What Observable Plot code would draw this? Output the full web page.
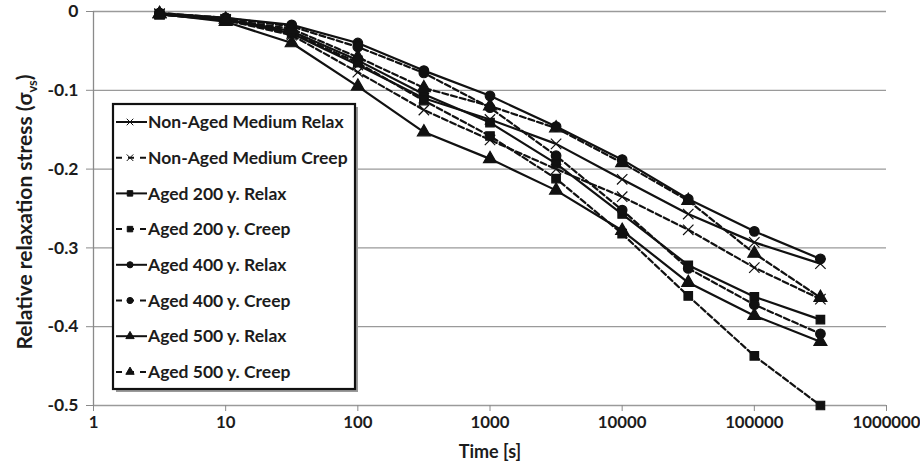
<!DOCTYPE html>
<html><head><meta charset="utf-8">
<script src="https://cdn.jsdelivr.net/npm/d3@7"></script>
<script src="https://cdn.jsdelivr.net/npm/@observablehq/plot@0.6"></script>
<style>
body{margin:0;background:#fff;}
#chart{position:relative;width:920px;height:466px;}
</style></head><body><div id="chart"></div>
<script>
const times = [3.16, 10, 31.6, 100, 316, 1000, 3162, 10000, 31623, 100000, 316228];
const seriesNames = ["Non-Aged Medium Relax","Non-Aged Medium Creep","Aged 200 y. Relax","Aged 200 y. Creep","Aged 400 y. Relax","Aged 400 y. Creep","Aged 500 y. Relax","Aged 500 y. Creep"];
const seriesSymbols = ["times","times","square","square","circle","circle","triangle","triangle"];
const seriesDashed = [false,true,false,true,false,true,false,true];
const nonAgedRelax = [-0.003,-0.010,-0.028,-0.068,-0.110,-0.137,-0.168,-0.213,-0.257,-0.293,-0.320];
const nonAgedCreep = [-0.003,-0.011,-0.030,-0.077,-0.125,-0.163,-0.200,-0.235,-0.277,-0.325,-0.365];
const aged200Relax = [-0.004,-0.010,-0.025,-0.062,-0.105,-0.141,-0.193,-0.257,-0.322,-0.362,-0.391];
const aged200Creep = [-0.004,-0.011,-0.027,-0.065,-0.113,-0.158,-0.212,-0.282,-0.361,-0.437,-0.500];
const aged400Relax = [-0.002,-0.008,-0.017,-0.040,-0.075,-0.107,-0.146,-0.188,-0.238,-0.279,-0.314];
const aged400Creep = [-0.002,-0.008,-0.019,-0.045,-0.078,-0.122,-0.183,-0.252,-0.326,-0.372,-0.409];
const aged500Relax = [-0.003,-0.013,-0.040,-0.095,-0.153,-0.187,-0.227,-0.278,-0.344,-0.386,-0.419];
const aged500Creep = [-0.003,-0.010,-0.022,-0.058,-0.097,-0.120,-0.148,-0.192,-0.240,-0.307,-0.363];
const seriesValues = [nonAgedRelax,nonAgedCreep,aged200Relax,aged200Creep,aged400Relax,aged400Creep,aged500Relax,aged500Creep];
const yTicks = [0,-0.1,-0.2,-0.3,-0.4,-0.5];
const xTicks = [1,10,100,1000,10000,100000,1000000];
const xTitle = "Time [s]";
const yTitle = "Relative relaxation stress (σ";
const yTitleSub = "vs";

const rows = seriesNames.flatMap((s,i)=>times.map((t,j)=>({series:s,time:t,value:seriesValues[i][j],dashed:seriesDashed[i]})));

const font = "Lato, 'Open Sans', sans-serif";
const ink = "#1c1c1c";
const chart = Plot.plot({
  width:920, height:466,
  marginLeft:93, marginRight:34, marginTop:11, marginBottom:61,
  style:{fontFamily:font, fontWeight:"bold", fontSize:"17px", color:ink, background:"#fff", overflow:"visible"},
  x:{type:"log", domain:[1,1e6]},
  y:{domain:[-0.5,0]},
  symbol:{domain:seriesNames, range:seriesSymbols},
  marks:[
    Plot.gridY(yTicks,{stroke:"#9a9a9a", strokeOpacity:1, strokeWidth:1.3}),
    Plot.ruleX([1],{stroke:"#8a8a8a", strokeWidth:1.3}),
    Plot.axisY(yTicks,{tickSize:7, tickPadding:8, stroke:"#8a8a8a", fill:ink, label:null, fontSize:17.5, tickFormat:d=>d===0?"0":String(d)}),
    Plot.axisX(xTicks,{tickSize:6, tickPadding:5, stroke:"#8a8a8a", fill:ink, label:null, fontSize:16.8, tickFormat:d=>String(d)}),
    Plot.line(rows.filter(d=>!d.dashed),{x:"time", y:"value", z:"series", stroke:"#111", strokeWidth:2.2}),
    Plot.line(rows.filter(d=>d.dashed),{x:"time", y:"value", z:"series", stroke:"#111", strokeWidth:2.2, strokeDasharray:"6,3"}),
    Plot.dot(rows,{x:"time", y:"value", symbol:"series", r:4.8, fill:"#111", stroke:"#111", strokeWidth:1.2})
  ]
});
document.getElementById("chart").appendChild(chart);

const svg = d3.select(chart);
// axis titles
svg.append("text").attr("x",490).attr("y",458).attr("text-anchor","middle")
  .style("font-family",font).style("font-weight","bold").style("font-size","18px").attr("fill",ink).text(xTitle);
const yt = svg.append("text").attr("transform","translate(32,212) rotate(-90)").attr("text-anchor","middle")
  .style("font-family",font).style("font-weight","bold").style("font-size","21px").attr("fill",ink);
yt.append("tspan").text(yTitle);
yt.append("tspan").attr("dy",5).style("font-size","13px").text(yTitleSub);
yt.append("tspan").attr("dy",-5).text(")");

// legend
const lg = svg.append("g").attr("transform","translate(113,104)");
lg.append("rect").attr("x",3).attr("y",3).attr("width",242).attr("height",285).attr("fill","#9a9a9a");
lg.append("rect").attr("x",0).attr("y",0).attr("width",242).attr("height",285).attr("fill","#fff").attr("stroke","#111").attr("stroke-width",2.2);
const sym = {times:d3.symbolTimes, square:d3.symbolSquare, circle:d3.symbolCircle, triangle:d3.symbolTriangle};
seriesNames.forEach((s,i)=>{
  const cy = 18 + i*35.7;
  const g = lg.append("g").attr("transform",`translate(0,${cy})`);
  g.append("line").attr("x1",3).attr("x2",34).attr("y1",0).attr("y2",0).attr("stroke","#111").attr("stroke-width",2)
    .attr("stroke-dasharray",seriesDashed[i]?"6,6":null);
  g.append("path").attr("transform","translate(17,0)").attr("d",d3.symbol(sym[seriesSymbols[i]],30)())
    .attr("fill","#111").attr("stroke","#111").attr("stroke-width",1);
  g.append("text").attr("x",35).attr("y",0).attr("dy","0.35em").attr("text-anchor","start")
    .style("font-family",font).style("font-weight","bold").style("font-size","17.5px").attr("fill",ink).text(s);
});
</script></body></html>
